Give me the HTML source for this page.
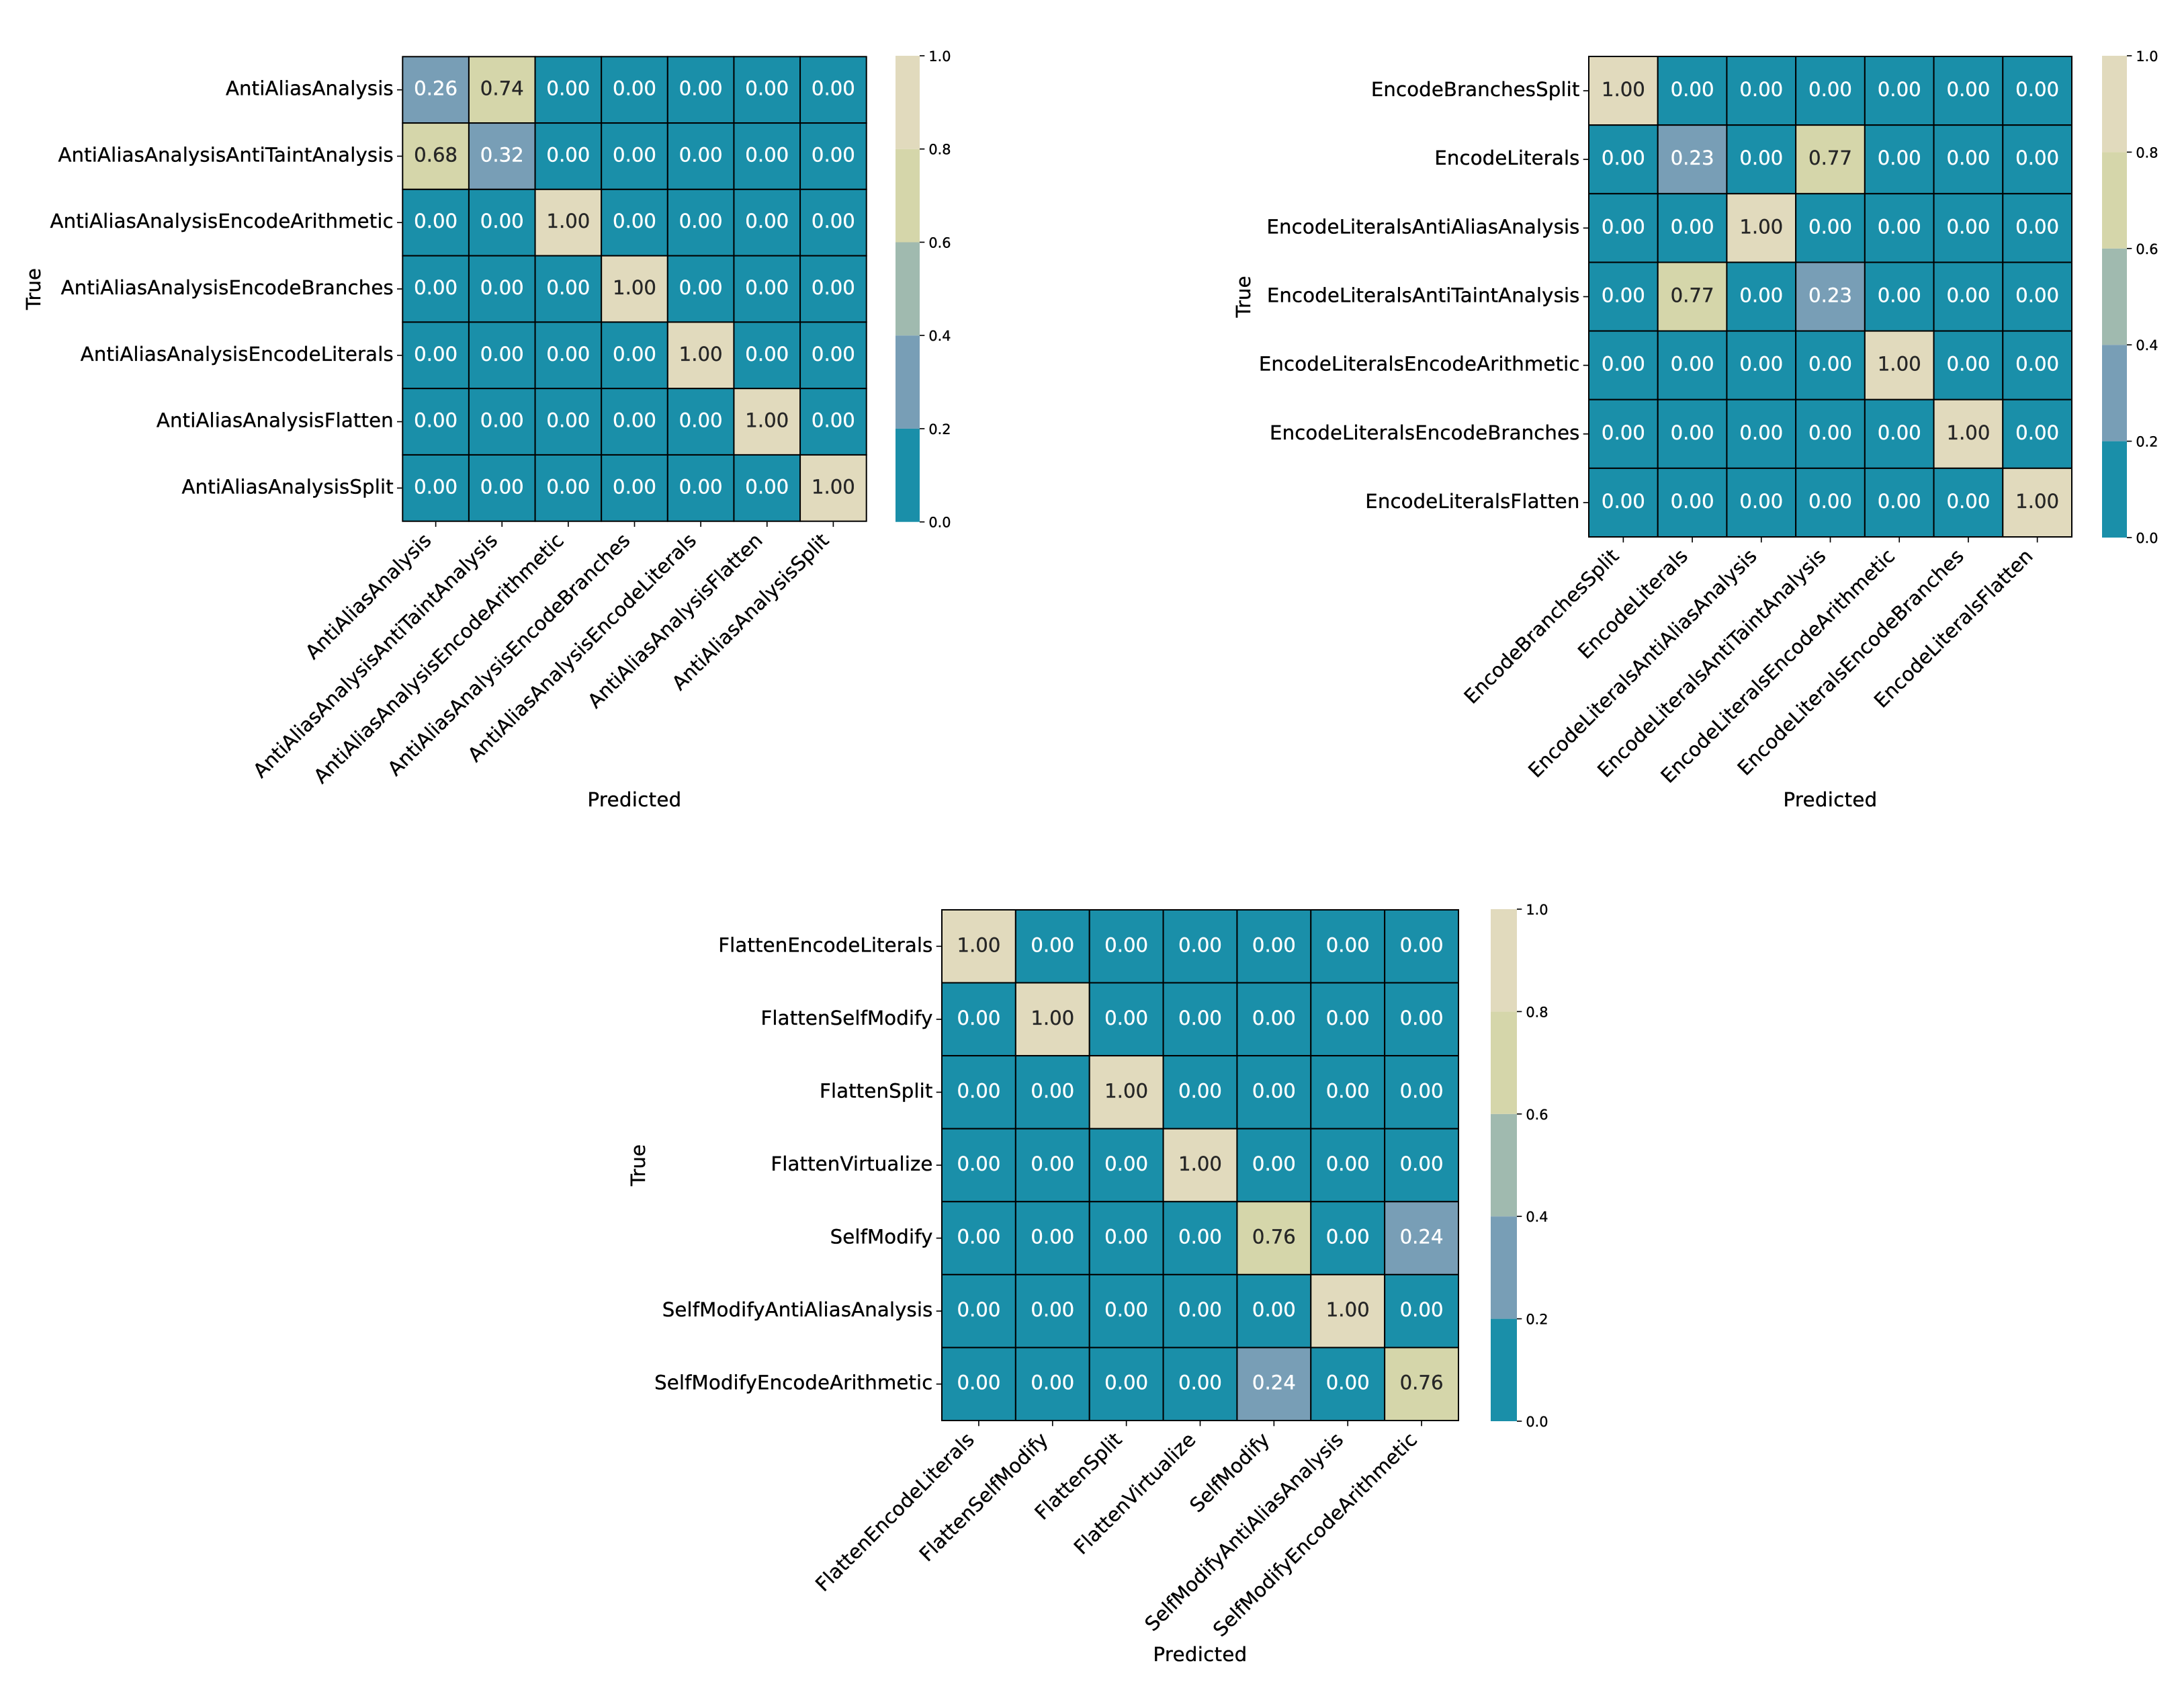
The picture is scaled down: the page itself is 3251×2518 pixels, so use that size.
<!DOCTYPE html>
<html lang="en">
<head>
<meta charset="utf-8">
<title>Confusion matrices</title>
<style>
html,body{margin:0;padding:0;background:#fff;}
svg{display:block;font-family:"DejaVu Sans","Liberation Sans",sans-serif;text-rendering:geometricPrecision;}
text{stroke-width:.35px;}
</style>
</head>
<body>
<svg id="figure" xmlns="http://www.w3.org/2000/svg" width="3251" height="2518" viewBox="0 0 3251 2518"></svg>
<script>
// ---- Chart data ----
const panel1Categories = ["AntiAliasAnalysis","AntiAliasAnalysisAntiTaintAnalysis","AntiAliasAnalysisEncodeArithmetic","AntiAliasAnalysisEncodeBranches","AntiAliasAnalysisEncodeLiterals","AntiAliasAnalysisFlatten","AntiAliasAnalysisSplit"];
const panel1Values = [
  [0.26,0.74,0,0,0,0,0],
  [0.68,0.32,0,0,0,0,0],
  [0,0,1,0,0,0,0],
  [0,0,0,1,0,0,0],
  [0,0,0,0,1,0,0],
  [0,0,0,0,0,1,0],
  [0,0,0,0,0,0,1]
];
const panel2Categories = ["EncodeBranchesSplit","EncodeLiterals","EncodeLiteralsAntiAliasAnalysis","EncodeLiteralsAntiTaintAnalysis","EncodeLiteralsEncodeArithmetic","EncodeLiteralsEncodeBranches","EncodeLiteralsFlatten"];
const panel2Values = [
  [1,0,0,0,0,0,0],
  [0,0.23,0,0.77,0,0,0],
  [0,0,1,0,0,0,0],
  [0,0.77,0,0.23,0,0,0],
  [0,0,0,0,1,0,0],
  [0,0,0,0,0,1,0],
  [0,0,0,0,0,0,1]
];
const panel3Categories = ["FlattenEncodeLiterals","FlattenSelfModify","FlattenSplit","FlattenVirtualize","SelfModify","SelfModifyAntiAliasAnalysis","SelfModifyEncodeArithmetic"];
const panel3Values = [
  [1,0,0,0,0,0,0],
  [0,1,0,0,0,0,0],
  [0,0,1,0,0,0,0],
  [0,0,0,1,0,0,0],
  [0,0,0,0,0.76,0,0.24],
  [0,0,0,0,0,1,0],
  [0,0,0,0,0.24,0,0.76]
];
const colorbarTicks = [0,0.2,0.4,0.6,0.8,1];
const xAxisTitle = "Predicted";
const yAxisTitle = "True";

// ---- Presentation ----
const palette = ["#1a8fa9","#789eb6","#a0baaf","#d5d6aa","#e1dabd"];
const NS = "http://www.w3.org/2000/svg";
const root = document.getElementById("figure");
const TICK_FONT = 29.17, CBAR_FONT = 20.83, TICK_LEN = 7.3, TICK_W = 1.67;

function make(parent, tag, attrs, text) {
  const el = document.createElementNS(NS, tag);
  for (const k in attrs) el.setAttribute(k, attrs[k]);
  if (text !== undefined) {
    el.textContent = text;
    el.setAttribute("stroke", attrs.fill);
  }
  parent.appendChild(el);
  return el;
}
function colorFor(v) {
  return palette[Math.min(palette.length - 1, Math.floor(v / 0.2 + 1e-9))];
}

function drawPanel(id, categories, values, box, cbar, titles) {
  const g = make(root, "g", {});
  
  
  const n = categories.length;
  const xScale = i => box.x0 + (box.x1 - box.x0) * i / n;
  const yScale = i => box.y0 + (box.y1 - box.y0) * i / n;
  const cbarScale = v => cbar.y1 - (cbar.y1 - cbar.y0) * v;

  values.forEach((row, r) => {
    row.forEach((v, c) => {
      const cell = make(g, "rect", {
        x: xScale(c), y: yScale(r), width: xScale(c + 1) - xScale(c), height: yScale(r + 1) - yScale(r),
        fill: colorFor(v), stroke: "#000", "stroke-width": 2
      });
      
      
      const label = make(g, "text", {
        x: (xScale(c) + xScale(c + 1)) / 2, y: (yScale(r) + yScale(r + 1)) / 2 + 8,
        "text-anchor": "middle", "font-size": TICK_FONT, fill: v >= 0.6 ? "#262626" : "#ffffff"
      }, v.toFixed(2));
      
      
    });
  });

  categories.forEach((name, i) => {
    const cy = (yScale(i) + yScale(i + 1)) / 2;
    const yt = make(g, "line", {x1: box.x0 - TICK_LEN - 1, x2: box.x0 - 1, y1: cy, y2: cy, stroke: "#000", "stroke-width": TICK_W});
    
    
    const yl = make(g, "text", {x: box.x0 - 13.5, y: cy + 8, "text-anchor": "end", "font-size": TICK_FONT, "letter-spacing": 0.15, fill: "#000"}, name);
    
    

    const cx = (xScale(i) + xScale(i + 1)) / 2;
    const xt = make(g, "line", {x1: cx, x2: cx, y1: box.y1 + 1, y2: box.y1 + TICK_LEN + 1, stroke: "#000", "stroke-width": TICK_W});
    
    
    const ax = cx - 4.9, ay = box.y1 + 14.6 + 15.7;
    const xl = make(g, "text", {x: ax, y: ay, "text-anchor": "end", "font-size": TICK_FONT, "letter-spacing": 0.15, fill: "#000", transform: `rotate(-45 ${ax} ${ay})`}, name);
    
    
  });

  const xTitle = make(g, "text", {x: (box.x0 + box.x1) / 2, y: titles.xBaseline, "text-anchor": "middle", "font-size": TICK_FONT, "letter-spacing": 0.35, fill: "#000"}, xAxisTitle);
  
  
  const ty = (box.y0 + box.y1) / 2;
  const yTitle = make(g, "text", {x: titles.yBaseline, y: ty, "text-anchor": "middle", "font-size": TICK_FONT, fill: "#000", transform: `rotate(-90 ${titles.yBaseline} ${ty})`}, yAxisTitle);
  
  

  for (let i = 0; i < colorbarTicks.length - 1; i++) {
    const top = cbarScale(colorbarTicks[i + 1]), bottom = cbarScale(colorbarTicks[i]);
    const seg = make(g, "rect", {x: cbar.x0, y: top, width: cbar.x1 - cbar.x0, height: bottom - top, fill: palette[i]});
    
    
  }
  colorbarTicks.forEach(v => {
    const y = cbarScale(v);
    const t = make(g, "line", {x1: cbar.x1, x2: cbar.x1 + TICK_LEN, y1: y, y2: y, stroke: "#000", "stroke-width": TICK_W});
    
    
    const l = make(g, "text", {x: cbar.x1 + 13.4, y: y + 8, "font-size": CBAR_FONT, fill: "#000"}, v.toFixed(1));
    
    
  });
}

drawPanel("anti-alias-confusion-matrix", panel1Categories, panel1Values,
  {x0: 599.3, x1: 1289.7, y0: 84.3, y1: 775.7}, {x0: 1333, x1: 1369, y0: 83, y1: 776.7},
  {xBaseline: 1200, yBaseline: 60});
drawPanel("encode-literals-confusion-matrix", panel2Categories, panel2Values,
  {x0: 2365, x1: 3084, y0: 84, y1: 799}, {x0: 3129, x1: 3166, y0: 83, y1: 800},
  {xBaseline: 1200, yBaseline: 1861});
drawPanel("flatten-selfmodify-confusion-matrix", panel3Categories, panel3Values,
  {x0: 1402, x1: 2171, y0: 1354, y1: 2114}, {x0: 2219, x1: 2258, y0: 1353, y1: 2115},
  {xBaseline: 2472, yBaseline: 960});
</script>
</body>
</html>
